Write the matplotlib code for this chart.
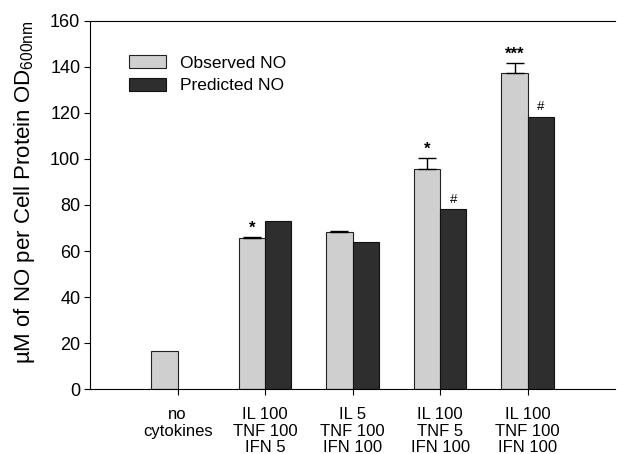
import numpy as np
import matplotlib.pyplot as plt

plt.rcParams['font.family'] = ['Liberation Sans', 'DejaVu Sans']

groups = ["no\ncytokines", "IL 100\nTNF 100\nIFN 5", "IL 5\nTNF 100\nIFN 100",
          "IL 100\nTNF 5\nIFN 100", "IL 100\nTNF 100\nIFN 100"]
observed = [16.5, 65.5, 68.3, 95.8, 137.2]
observed_err = [0, 0.8, 0.5, 4.5, 4.4]
predicted = [0, 73.0, 63.8, 78.2, 118.3]
obs_marks = ["", "*", "", "*", "***"]
pred_marks = ["", "", "", "#", "#"]


def main():
    fig = plt.figure(figsize=(6.17, 4.54), dpi=100)
    ax = fig.add_axes([0.146, 0.143, 0.851, 0.811])

    x = np.arange(len(groups))
    w = 0.3

    ax.bar(x - w / 2, observed, w, color="#cfcfcf", edgecolor="#222222",
           linewidth=0.8, label="Observed NO", zorder=2)
    ax.bar(x[1:] + w / 2, predicted[1:], w, color="#2e2e2e", edgecolor="#111111",
           linewidth=0.8, label="Predicted NO", zorder=2)

    # one-sided error bars on observed
    for i in range(1, len(groups)):
        ax.errorbar(x[i] - w / 2, observed[i], yerr=[[0], [observed_err[i]]],
                    fmt="none", ecolor="black", elinewidth=1, capsize=6.5,
                    capthick=1, zorder=3)

    for i in range(len(groups)):
        if obs_marks[i]:
            ax.text(x[i] - w / 2, observed[i] + observed_err[i] + 0.5, obs_marks[i],
                    ha="center", va="bottom", fontsize=12, fontweight="bold")
        if pred_marks[i]:
            ax.text(x[i] + w / 2, predicted[i] + 1.5, pred_marks[i],
                    ha="center", va="bottom", fontsize=9.5)

    ax.set_xlim(-1, 5)
    ax.set_ylim(0, 160)
    ax.set_yticks(np.arange(0, 161, 20))
    ax.set_xticks(x)
    ax.set_xticklabels(groups, fontsize=12, linespacing=1.12)
    ax.tick_params(axis="y", labelsize=13, direction="out", length=4, pad=3)
    ax.tick_params(axis="x", direction="out", length=4, pad=9)
    ax.spines["right"].set_visible(False)

    ax.set_ylabel("\u00b5M of NO per Cell Protein OD$_{\\mathregular{600nm}}$",
                  fontsize=16)
    ax.yaxis.set_label_coords(-0.102, 0.535)

    ax.legend(loc="upper left", bbox_to_anchor=(0.045, 0.95), frameon=False,
              fontsize=12.5, handlelength=2.1, handleheight=0.8,
              labelspacing=0.4, handletextpad=0.8)

    fig.savefig("out.png", dpi=100)


if __name__ == "__main__":
    main()
